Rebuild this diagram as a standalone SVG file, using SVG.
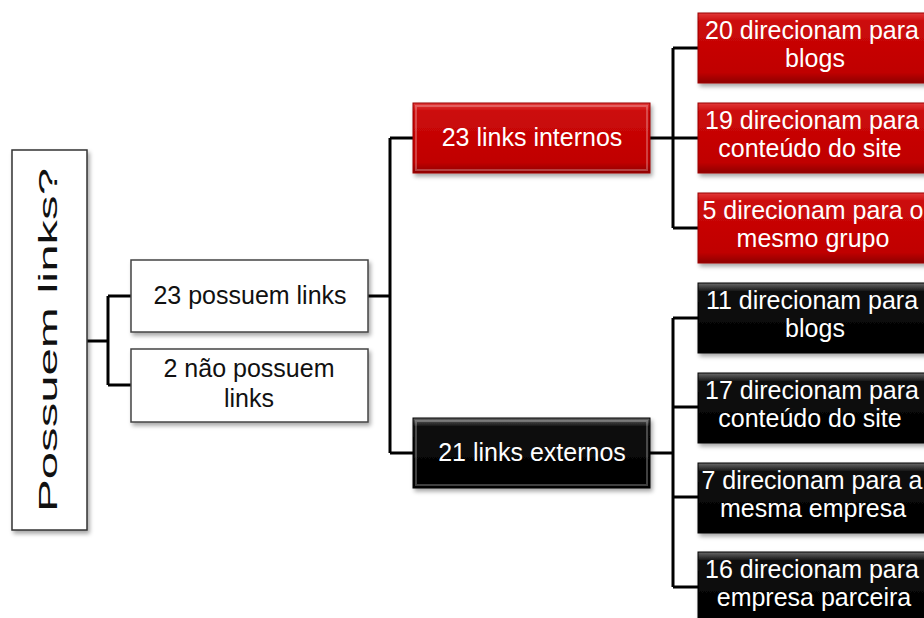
<svg xmlns="http://www.w3.org/2000/svg" width="924" height="618" viewBox="0 0 924 618">
<defs>
  <linearGradient id="redG" x1="0" y1="0" x2="0" y2="1">
    <stop offset="0" stop-color="#e23a3a"/>
    <stop offset="0.12" stop-color="#cc0a0a"/>
    <stop offset="0.85" stop-color="#c00000"/>
    <stop offset="1" stop-color="#8e0000"/>
  </linearGradient>
  <linearGradient id="blkG" x1="0" y1="0" x2="0" y2="1">
    <stop offset="0" stop-color="#6a6a6a"/>
    <stop offset="0.12" stop-color="#111"/>
    <stop offset="0.85" stop-color="#000"/>
    <stop offset="1" stop-color="#000"/>
  </linearGradient>
  <filter id="sh" x="-10%" y="-10%" width="130%" height="140%">
    <feDropShadow dx="2" dy="3" stdDeviation="2" flood-color="#000" flood-opacity="0.35"/>
  </filter>
</defs>
<style>
  .t { font-family: "Liberation Sans", Arial, sans-serif; font-size: 25px; text-anchor: middle; }
  .dk { fill: #111; }
  .lt { fill: #fff; }
  .wbox { fill: #fff; stroke: #444; stroke-width: 1.5; filter: url(#sh); }
  .rbox { fill: url(#redG); stroke: #9a0000; stroke-width: 1; filter: url(#sh); }
  .bbox { fill: url(#blkG); stroke: #000; stroke-width: 1; filter: url(#sh); }
  .hl { fill: none; stroke: #ffffff; stroke-opacity: 0.25; stroke-width: 2; }
  .conn { fill: none; stroke: #000; stroke-width: 3; }
</style>

<g id="connectors">
  <path class="conn" d="M87 341 H108 M108 296 V385 M108 296 H131 M108 385 H131"/>
  <path class="conn" d="M368 296 H390 M390 138 V453 M390 138 H413 M390 453 H413"/>
  <path class="conn" d="M650 138 H698 M673 48 V228 M673 48 H698 M673 228 H698"/>
  <path class="conn" d="M650 453 H673 M673 318 V587 M673 318 H698 M673 407 H698 M673 497 H698 M673 587 H698"/>
</g>

<g id="root">
  <rect x="12" y="150" width="75" height="380" fill="#fff" stroke="#333" stroke-width="1.5" filter="url(#sh)"/>
  <text class="t dk" transform="translate(57,340) rotate(-90)" font-size="40" textLength="344" lengthAdjust="spacingAndGlyphs">Possuem links?</text>
</g>

<g id="n-possuem">
  <rect class="wbox" x="131" y="260" width="237" height="72"/>
  <text class="t dk" x="250" y="304">23 possuem links</text>
</g>
<g id="n-nao-possuem">
  <rect class="wbox" x="131" y="349" width="237" height="73"/>
  <text class="t dk" x="249" y="377">2 não possuem</text>
  <text class="t dk" x="249" y="407">links</text>
</g>

<g id="n-internos">
  <rect class="rbox" x="413" y="103" width="237" height="70"/>
  <rect class="hl" x="416" y="106" width="231" height="64"/>
  <text class="t lt" x="532" y="146">23 links internos</text>
</g>
<g id="n-externos">
  <rect class="bbox" x="413" y="418" width="237" height="70"/>
  <rect class="hl" x="416" y="421" width="231" height="64"/>
  <text class="t lt" x="532" y="461">21 links externos</text>
</g>

<g id="r1">
  <rect class="rbox" x="698" y="13" width="236" height="70"/>
  <text class="t lt" x="812" y="39">20 direcionam para</text>
  <text class="t lt" x="815" y="67">blogs</text>
</g>
<g id="r2">
  <rect class="rbox" x="698" y="103" width="236" height="70"/>
  <text class="t lt" x="812" y="129">19 direcionam para</text>
  <text class="t lt" x="810" y="157">conteúdo do site</text>
</g>
<g id="r3">
  <rect class="rbox" x="698" y="193" width="236" height="70"/>
  <text class="t lt" x="813" y="219">5 direcionam para o</text>
  <text class="t lt" x="813" y="247">mesmo grupo</text>
</g>
<g id="b1">
  <rect class="bbox" x="698" y="283" width="236" height="70"/>
  <text class="t lt" x="812" y="309">11 direcionam para</text>
  <text class="t lt" x="815" y="337">blogs</text>
</g>
<g id="b2">
  <rect class="bbox" x="698" y="373" width="236" height="70"/>
  <text class="t lt" x="812" y="399">17 direcionam para</text>
  <text class="t lt" x="810" y="427">conteúdo do site</text>
</g>
<g id="b3">
  <rect class="bbox" x="698" y="463" width="236" height="70"/>
  <text class="t lt" x="812" y="489">7 direcionam para a</text>
  <text class="t lt" x="813" y="517">mesma empresa</text>
</g>
<g id="b4">
  <rect class="bbox" x="698" y="552" width="236" height="70"/>
  <text class="t lt" x="812" y="578">16 direcionam para</text>
  <text class="t lt" x="814" y="606">empresa parceira</text>
</g>
</svg>
